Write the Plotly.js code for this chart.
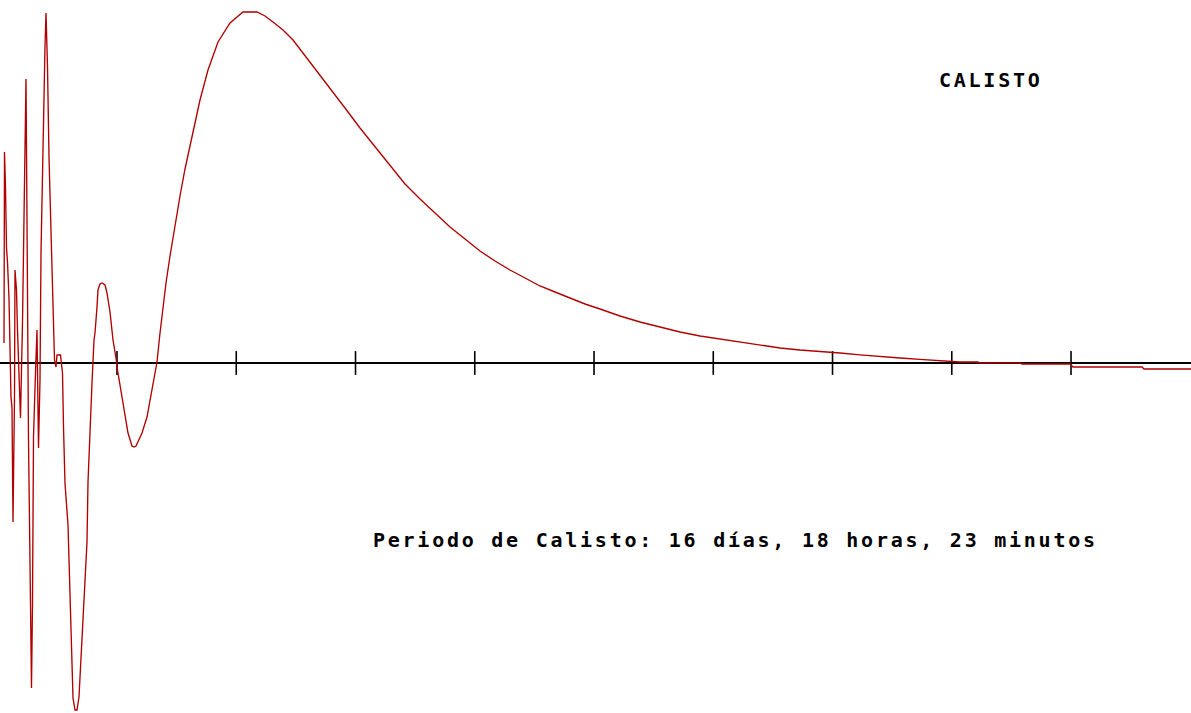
<!DOCTYPE html>
<html>
<head>
<meta charset="utf-8">
<script src="https://cdn.plot.ly/plotly-3.0.1.min.js"></script>
<style>
  html, body { margin: 0; padding: 0; background: #ffffff; }
  #chart { width: 1191px; height: 713px; }
  .annotation-text { letter-spacing: 2.75px; }
</style>
</head>
<body>
<div id="chart"></div>
<script>
// Horizontal position, in axis-tick units (tick marks at 1..9)
const curveX = [
  0.0524, 0.0566, 0.0650, 0.0734, 0.0818, 0.0943, 0.1111, 0.1195, 0.1279, 0.1405,
  0.1447, 0.1572, 0.1656, 0.1782, 0.1908, 0.2075, 0.2201, 0.2285, 0.2369, 0.2453,
  0.2579, 0.2746, 0.2830, 0.2914, 0.2998, 0.3124, 0.3208, 0.3291, 0.3417, 0.3543,
  0.3627, 0.3795, 0.3962, 0.4046, 0.4172, 0.4298, 0.4465, 0.4633, 0.4759, 0.4885,
  0.4969, 0.5262, 0.5346, 0.5430, 0.5514, 0.5639, 0.5891, 0.6059, 0.6226, 0.6310,
  0.6478, 0.6646, 0.6813, 0.6981, 0.7149, 0.7317, 0.7484, 0.7568, 0.7736, 0.7904,
  0.8071, 0.8155, 0.8323, 0.8407, 0.8574, 0.8742, 0.8994, 0.9161, 0.9413, 0.9665,
  0.9916, 1.0000, 1.0419, 1.0671, 1.0922, 1.1258, 1.1426, 1.1593, 1.1845, 1.2096,
  1.2516, 1.2935, 1.3354, 1.3606, 1.3857, 1.4109, 1.4444, 1.4864, 1.5283, 1.5702,
  1.6122, 1.6541, 1.6960, 1.7631, 1.8470, 1.9476, 2.0566, 2.1740, 2.2411, 2.3082,
  2.3920, 2.4759, 2.6185, 2.7862, 2.9119, 3.0377, 3.1635, 3.2893, 3.4151, 3.5409,
  3.6667, 3.7925, 3.9182, 4.0440, 4.1698, 4.2956, 4.4214, 4.5472, 4.6730, 4.7987,
  4.9245, 5.0503, 5.2180, 5.3857, 5.5535, 5.7212, 5.8889, 6.0566, 6.2243, 6.3920,
  6.5597, 6.7275, 6.8952, 7.0629, 7.2306, 7.3983, 7.5660, 7.7338, 7.9015, 8.0692,
  8.2201, 8.2369, 8.5723, 8.5891, 8.9916, 9.0168, 9.5954, 9.6122, 10.0063
];
// Vertical value of the curve
const curveY = [
   0.20,  2.11,  1.75,  1.15,  1.01,  0.65, -0.34, -0.45, -1.59, -0.34,
   0.93,  0.73,  0.33, -0.20, -0.55,  0.40,  1.43,  2.03,  2.84,  1.43,
  -0.77, -2.40, -3.25, -2.40, -0.74, -0.25,  0.20,  0.33, -0.85, -0.17,
   1.10,  2.25,  3.16,  3.50,  2.96,  2.06,  1.33,  0.51,  0.03, -0.04,
   0.08,  0.08,  0.00, -0.10, -0.64, -1.20, -1.62, -2.24, -2.92, -3.35,
  -3.47, -3.47, -3.34, -2.94, -2.55, -2.24, -1.79, -1.19, -0.60, -0.20,
   0.23,  0.30,  0.56,  0.73,  0.79,  0.80,  0.78,  0.70,  0.51,  0.23,
   0.05, -0.04, -0.34, -0.54, -0.70, -0.83, -0.84, -0.83, -0.77, -0.70,
  -0.54, -0.27,  0.01,  0.30,  0.57,  0.80,  1.07,  1.38,  1.67,  1.94,
   2.18,  2.41,  2.63,  2.93,  3.21,  3.40,  3.51,  3.51,  3.47,  3.41,
   3.33,  3.23,  3.01,  2.75,  2.55,  2.35,  2.16,  1.97,  1.79,  1.64,
   1.50,  1.36,  1.24,  1.12,  1.02,  0.93,  0.85,  0.77,  0.71,  0.65,
   0.59,  0.54,  0.47,  0.41,  0.36,  0.31,  0.27,  0.24,  0.21,  0.18,
   0.15,  0.13,  0.117, 0.10,  0.082, 0.064, 0.05,  0.036, 0.02,  0.01,
   0.01,  0.00,  0.00, -0.01, -0.01, -0.04, -0.04, -0.06, -0.06
];
const tickValues = [1, 2, 3, 4, 5, 6, 7, 8, 9];
const tickLevel = [0, 0, 0, 0, 0, 0, 0, 0, 0];
const titleText = "CALISTO";
const periodText = "Periodo de Calisto: 16 días, 18 horas, 23 minutos";

const xRange = [0.0189, 10.006];
const yRange = [-3.50, 3.63];

const curve = {
  x: curveX,
  y: curveY,
  type: 'scatter',
  mode: 'lines',
  line: { color: '#b00000', width: 1.35 },
  hoverinfo: 'skip'
};

// crossing tick marks on the horizontal axis
const ticks = {
  x: tickValues,
  y: tickLevel,
  type: 'scatter',
  mode: 'markers',
  marker: {
    symbol: 'line-ns',
    size: 17,
    color: '#000000',
    line: { color: '#000000', width: 1.6 }
  },
  hoverinfo: 'skip'
};

const font = { family: 'DejaVu Sans Mono', size: 20, color: '#000000', weight: 'bold' };

const layout = {
  width: 1191,
  height: 713,
  margin: { l: 0, r: 0, t: 0, b: 0, pad: 0 },
  paper_bgcolor: '#ffffff',
  plot_bgcolor: '#ffffff',
  showlegend: false,
  xaxis: {
    range: xRange,
    showline: false,
    ticks: '',
    showticklabels: false,
    showgrid: false,
    zeroline: false,
    fixedrange: true
  },
  yaxis: {
    range: yRange,
    showticklabels: false,
    ticks: '',
    showgrid: false,
    showline: false,
    zeroline: true,
    zerolinecolor: '#000000',
    zerolinewidth: 1.7,
    fixedrange: true
  },
  annotations: [
    {
      text: titleText, xref: 'paper', yref: 'paper',
      x: 991 / 1191, y: 1 - 80 / 713, xanchor: 'center', yanchor: 'middle',
      showarrow: false, font: font
    },
    {
      text: periodText, xref: 'paper', yref: 'paper',
      x: 735 / 1191, y: 1 - 540 / 713, xanchor: 'center', yanchor: 'middle',
      showarrow: false, font: font
    }
  ]
};

Plotly.newPlot('chart', [ticks, curve], layout, { displayModeBar: false, staticPlot: true });
</script>
</body>
</html>
